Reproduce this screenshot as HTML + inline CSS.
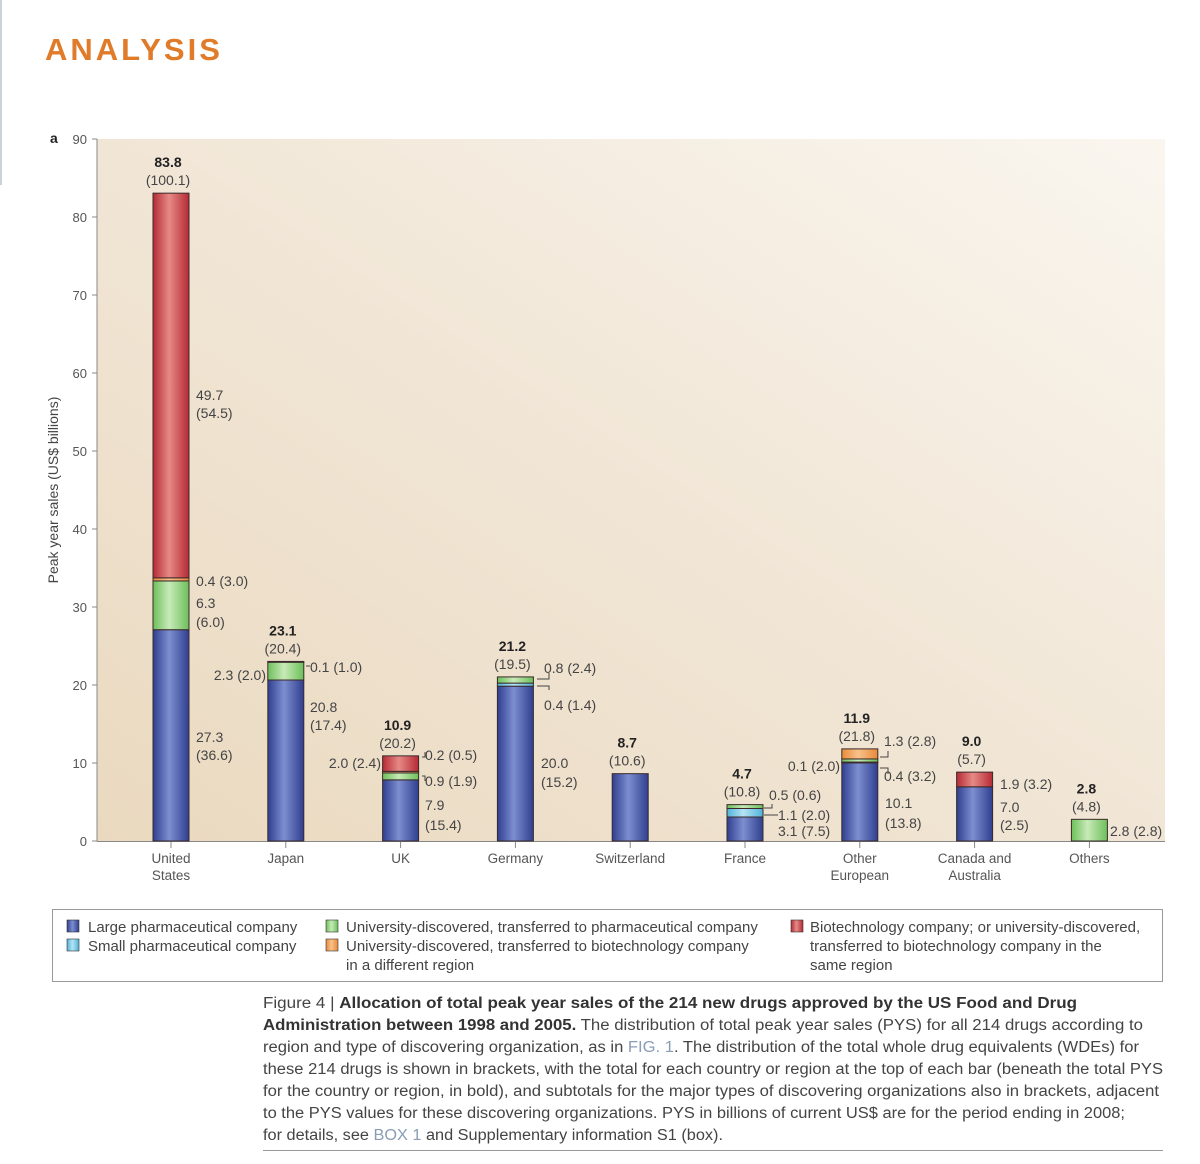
<!DOCTYPE html>
<html><head><meta charset="utf-8">
<style>
html,body{margin:0;padding:0;background:#fff;}
svg{display:block;font-family:"Liberation Sans",sans-serif;}
</style></head>
<body>
<svg id="chart" width="1200" height="1164" viewBox="0 0 1200 1164">
<defs>
<linearGradient id="bg" x1="0" y1="1" x2="1" y2="0">
<stop offset="0" stop-color="#ead9bf"/><stop offset="0.5" stop-color="#f1e6d6"/><stop offset="1" stop-color="#faf6ef"/>
</linearGradient>
<linearGradient id="gBlue" x1="0" x2="1"><stop offset="0" stop-color="#2f3f8f"/><stop offset="0.45" stop-color="#7d8ed0"/><stop offset="1" stop-color="#2f3f8f"/></linearGradient>
<linearGradient id="gSky" x1="0" x2="1"><stop offset="0" stop-color="#4fb3d9"/><stop offset="0.45" stop-color="#b6e3f4"/><stop offset="1" stop-color="#4fb3d9"/></linearGradient>
<linearGradient id="gGreen" x1="0" x2="1"><stop offset="0" stop-color="#6cbf5a"/><stop offset="0.45" stop-color="#c8eab8"/><stop offset="1" stop-color="#6cbf5a"/></linearGradient>
<linearGradient id="gOrange" x1="0" x2="1"><stop offset="0" stop-color="#e88a3a"/><stop offset="0.45" stop-color="#f8c28a"/><stop offset="1" stop-color="#e88a3a"/></linearGradient>
<linearGradient id="gRed" x1="0" x2="1"><stop offset="0" stop-color="#b52a35"/><stop offset="0.45" stop-color="#e68a86"/><stop offset="1" stop-color="#b52a35"/></linearGradient>
</defs>
<rect x="0" y="0" width="2" height="185" fill="#c9d3dc"/>
<text x="45" y="60" font-size="31" font-weight="bold" fill="#e07b2a" letter-spacing="3">ANALYSIS</text>
<rect x="97" y="139" width="1068" height="702" fill="url(#bg)"/>
<g id="axis"></g>
<g id="bars"></g>
<g id="ann" font-size="14" fill="#444"></g>
<text x="50" y="143" font-size="14" font-weight="bold" fill="#222">a</text>
<text transform="translate(58,490) rotate(-90)" text-anchor="middle" font-size="14" fill="#444">Peak year sales (US$ billions)</text>

<g>
<rect x="52.5" y="909.5" width="1110" height="72" fill="#fff" stroke="#999"/>
<g font-size="15" fill="#444">
<rect x="67" y="920" width="12" height="12" fill="url(#gBlue)" stroke="#333" stroke-width="0.6"/>
<text x="88" y="932">Large pharmaceutical company</text>
<rect x="67" y="939" width="12" height="12" fill="url(#gSky)" stroke="#333" stroke-width="0.6"/>
<text x="88" y="951">Small pharmaceutical company</text>
<rect x="326" y="920" width="12" height="12" fill="url(#gGreen)" stroke="#333" stroke-width="0.6"/>
<text x="346" y="932">University-discovered, transferred to pharmaceutical company</text>
<rect x="326" y="939" width="12" height="12" fill="url(#gOrange)" stroke="#333" stroke-width="0.6"/>
<text x="346" y="951">University-discovered, transferred to biotechnology company</text>
<text x="346" y="970">in a different region</text>
<rect x="791" y="920" width="12" height="12" fill="url(#gRed)" stroke="#333" stroke-width="0.6"/>
<text x="810" y="932">Biotechnology company; or university-discovered,</text>
<text x="810" y="951">transferred to biotechnology company in the</text>
<text x="810" y="970">same region</text>
</g></g>

<g font-size="15.5" fill="#444">
<text x="263" y="1008" textLength="814" lengthAdjust="spacingAndGlyphs">Figure 4 | <tspan font-weight="bold" fill="#333">Allocation of total peak year sales of the 214 new drugs approved by the US Food and Drug</tspan></text>
<text x="263" y="1030" textLength="880" lengthAdjust="spacingAndGlyphs"><tspan font-weight="bold" fill="#333">Administration between 1998 and 2005.</tspan> The distribution of total peak year sales (PYS) for all 214 drugs according to</text>
<text x="263" y="1052" textLength="876" lengthAdjust="spacingAndGlyphs">region and type of discovering organization, as in <tspan fill="#8a9db5">FIG. 1</tspan>. The distribution of the total whole drug equivalents (WDEs) for</text>
<text x="263" y="1074" textLength="900" lengthAdjust="spacingAndGlyphs">these 214 drugs is shown in brackets, with the total for each country or region at the top of each bar (beneath the total PYS</text>
<text x="263" y="1096" textLength="896" lengthAdjust="spacingAndGlyphs">for the country or region, in bold), and subtotals for the major types of discovering organizations also in brackets, adjacent</text>
<text x="263" y="1118" textLength="862" lengthAdjust="spacingAndGlyphs">to the PYS values for these discovering organizations. PYS in billions of current US$ are for the period ending in 2008;</text>
<text x="263" y="1140" textLength="460" lengthAdjust="spacingAndGlyphs">for details, see <tspan fill="#8a9db5">BOX 1</tspan> and Supplementary information S1 (box).</text>
<line x1="263" y1="1150.5" x2="1163" y2="1150.5" stroke="#999"/>
</g>
</svg>
<script>
const categories = ["United\nStates","Japan","UK","Germany","Switzerland","France","Other\nEuropean","Canada and\nAustralia","Others"];
const largePharma = [27.3,20.8,7.9,20.0,8.7,3.1,10.1,7.0,0];
const smallPharma = [0,0,0,0.4,0,1.1,0.1,0,0];
const univPharma = [6.3,2.3,0.9,0.8,0,0.5,0.4,0,2.8];
const univBiotech = [0.4,0.1,0.2,0,0,0,1.3,0,0];
const biotech = [49.7,0,2.0,0,0,0,0,1.9,0];
const totals = ["83.8","23.1","10.9","21.2","8.7","4.7","11.9","9.0","2.8"];
const totalWDE = ["(100.1)","(20.4)","(20.2)","(19.5)","(10.6)","(10.8)","(21.8)","(5.7)","(4.8)"];
const yTicks = [0,10,20,30,40,50,60,70,80,90];

const NS="http://www.w3.org/2000/svg";
const y0=841, pxPer=7.8;
function yScale(v){return y0-v*pxPer;}
function hScale(v){return v*7.74;}
function xScale(i){return 171+i*114.8;}
const barW=36;
function mk(tag,attrs,parent){const e=document.createElementNS(NS,tag);for(const k in attrs)e.setAttribute(k,attrs[k]);parent.appendChild(e);return e;}

const axis=document.getElementById('axis');
const ax=mk('line',{x1:97,y1:139,x2:97,y2:841,stroke:'#888'},axis);


const bl=mk('line',{x1:97,y1:841.5,x2:1165,y2:841.5,stroke:'#888'},axis);


yTicks.forEach(t=>{
  const y=yScale(t);
  mk('line',{x1:92,y1:y,x2:97,y2:y,stroke:'#888'},axis);
  const tx=mk('text',{x:87,y:y+5,'text-anchor':'end','font-size':13,fill:'#555'},axis);
  tx.textContent=t;
  
  
});
categories.forEach((c,i)=>{
  const x=xScale(i);
  mk('line',{x1:x,y1:842,x2:x,y2:848,stroke:'#888'},axis);
  c.split('\n').forEach((ln,j)=>{
    const tx=mk('text',{x:x,y:863+j*17,'text-anchor':'middle','font-size':13.5,fill:'#555'},axis);
    tx.textContent=ln;
    
    
  });
});

const series=[[largePharma,'url(#gBlue)','large-pharma'],[smallPharma,'url(#gSky)','small-pharma'],[univPharma,'url(#gGreen)','univ-pharma'],[univBiotech,'url(#gOrange)','univ-biotech'],[biotech,'url(#gRed)','biotech']];
const bars=document.getElementById('bars');
categories.forEach((c,i)=>{
  let cum=0;
  series.forEach(([arr,fill,name])=>{
    const v=arr[i]; if(v<=0)return;
    const r=mk('rect',{x:xScale(i)-barW/2,y:y0-hScale(cum+v),width:barW,height:hScale(v),fill:fill,stroke:'#3a2a2a','stroke-width':1},bars);
    
    
    cum+=v;
  });
});

const ann=document.getElementById('ann');
categories.forEach((c,i)=>{
  let top=0;series.forEach(s=>top+=s[0][i]);
  const t1=mk('text',{x:xScale(i)-3,y:y0-hScale(top)-26,'text-anchor':'middle','font-weight':'bold',fill:'#222'},ann);
  t1.textContent=totals[i];
  
  
  const t2=mk('text',{x:xScale(i)-3,y:y0-hScale(top)-8,'text-anchor':'middle'},ann);
  t2.textContent=totalWDE[i];
  
  
});
const segLabels=[
 [196,400,"49.7","start"],[196,418,"(54.5)","start"],[196,586,"0.4 (3.0)","start"],[196,608,"6.3","start"],[196,627,"(6.0)","start"],[196,742,"27.3","start"],[196,760,"(36.6)","start"],
 [266,680,"2.3 (2.0)","end"],[310,672,"0.1 (1.0)","start"],[310,712,"20.8","start"],[310,730,"(17.4)","start"],
 [381,768,"2.0 (2.4)","end"],[425,760,"0.2 (0.5)","start"],[425,786,"0.9 (1.9)","start"],[425,810,"7.9","start"],[425,830,"(15.4)","start"],
 [544,673,"0.8 (2.4)","start"],[544,710,"0.4 (1.4)","start"],[541,768,"20.0","start"],[541,787,"(15.2)","start"],
 [769,800,"0.5 (0.6)","start"],[778,820,"1.1 (2.0)","start"],[778,836,"3.1 (7.5)","start"],
 [884,746,"1.3 (2.8)","start"],[840,771,"0.1 (2.0)","end"],[884,781,"0.4 (3.2)","start"],[885,808,"10.1","start"],[885,828,"(13.8)","start"],
 [1000,789,"1.9 (3.2)","start"],[1000,812,"7.0","start"],[1000,830,"(2.5)","start"],
 [1110,836,"2.8 (2.8)","start"]
];
segLabels.forEach(([x,y,t,a])=>{
  const e=mk('text',{x:x,y:y,'text-anchor':a},ann);
  e.textContent=t;
  
  
});
const leaders=[
 "M306 666 H310","M422 757 H425 V752","M422 776 H425 V781",
 "M537 679 H549 V673","M537 686 H549 V690",
 "M764 808 H772 V804","M764 815 H778",
 "M880 757 H888 V751","M880 768 H888 V774"
];
leaders.forEach(d=>mk('path',{d:d,fill:'none',stroke:'#444','stroke-width':1},ann));
</script>
</body></html>
